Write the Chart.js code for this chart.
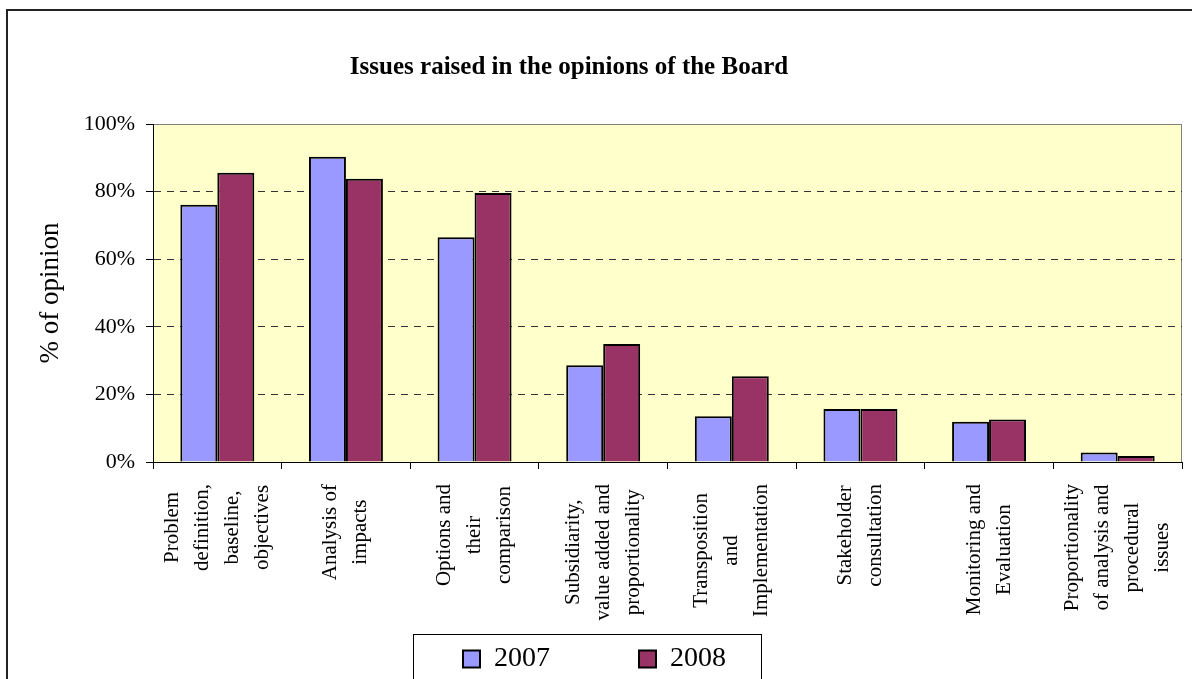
<!DOCTYPE html>
<html>
<head>
<meta charset="utf-8">
<script src="https://cdn.jsdelivr.net/npm/chart.js@4"></script>
<style>
  body { margin: 0; overflow: hidden; background: #fff; }
  #wrap { width: 1192px; height: 683px; }
</style>
</head>
<body>
<div id="wrap"><canvas id="myChart"></canvas></div>
<script>
const ctx = document.getElementById('myChart').getContext('2d')

const categories = [
    ['Problem', 'definition,', 'baseline,', 'objectives'],
    ['Analysis of', 'impacts'],
    ['Options and', 'their', 'comparison'],
    ['Subsidiarity,', 'value added and', 'proportionality'],
    ['Transposition', 'and', 'Implementation'],
    ['Stakeholder', 'consultation'],
    ['Monitoring and', 'Evaluation'],
    ['Proportionality', 'of analysis and', 'procedural', 'issues']
]
const values2007 = [76.1, 90.3, 66.5, 28.6, 13.5, 15.7, 11.9, 2.8]
const values2008 = [85.6, 83.8, 79.6, 34.9, 25.4, 15.7, 12.6, 1.8]
const yTicks = [0, 20, 40, 60, 80, 100]

const serif = '"Liberation Serif", "Times New Roman", serif'

// background, plot area, outer frame
const framePlugin = {
    id: 'frame',
    beforeDraw(chart) {
        const c = chart.ctx
        const a = chart.chartArea
        c.save()
        c.fillStyle = '#fff'
        c.fillRect(0, 0, chart.width, chart.height)
        c.fillStyle = '#FFFFCC'
        c.fillRect(a.left, a.top, a.right - a.left, a.bottom - a.top)
        c.strokeStyle = '#808080'
        c.lineWidth = 1
        c.strokeRect(a.left + 0.5, a.top + 0.5, a.right - a.left - 1, a.bottom - a.top)
        c.strokeStyle = '#222'
        c.lineWidth = 2
        c.beginPath()
        c.moveTo(chart.width, 10)
        c.lineTo(7, 10)
        c.lineTo(7, chart.height)
        c.stroke()
        c.restore()
    },
    afterLayout(chart) {
        // move the title a bit to the left, like the original
        const t = chart.titleBlock
        if (t) {
            t.right = 2 * 569 - t.left
            t.width = t.right - t.left
        }
    },
    afterDraw(chart) {
        const c = chart.ctx
        const x = chart.scales.x
        const a = chart.chartArea
        c.save()
        c.fillStyle = '#000'
        c.font = '21px ' + serif
        c.textAlign = 'center'
        c.textBaseline = 'middle'
        categories.forEach((lines, i) => {
            const cx = x.getPixelForValue(i)
            const maxLen = Math.max(...lines.map(l => c.measureText(l).width))
            const cy = a.bottom + 22 + maxLen / 2
            lines.forEach((line, k) => {
                c.save()
                c.translate(cx + (k - (lines.length - 1) / 2) * 30, cy)
                c.rotate(-Math.PI / 2)
                c.fillText(line, 0, 0)
                c.restore()
            })
        })
        // legend frame
        const hb = chart.legend.legendHitBoxes
        if (hb && hb.length) {
            const first = hb[0], last = hb[hb.length - 1]
            c.strokeStyle = '#000'
            c.lineWidth = 1
            c.strokeRect(first.left - 49.5, first.top - 10.5, last.left + last.width - first.left + 85, 200)
        }
        c.restore()
    }
}

const data = {
    labels: categories,
    datasets: [{
        label: '2007',
        data: values2007,
        backgroundColor: '#9999FF',
        borderColor: '#000',
        borderWidth: 2
    }, {
        label: '2008',
        data: values2008,
        backgroundColor: '#993366',
        borderColor: '#000',
        borderWidth: 2
    }]
}

const config = {
    type: 'bar',
    data,
    plugins: [framePlugin],
    options: {
        responsive: true,
        maintainAspectRatio: false,
        animation: false,
        datasets: {
            bar: { categoryPercentage: 0.575, barPercentage: 1.0 }
        },
        layout: { padding: { left: 7, right: 10, top: 0, bottom: 0 } },
        plugins: {
            title: {
                display: true,
                text: 'Issues raised in the opinions of the Board',
                color: '#000',
                font: { family: serif, size: 25, weight: 'bold' },
                padding: { top: 53, bottom: 41 }
            },
            legend: {
                position: 'bottom',
                labels: {
                    color: '#000',
                    font: { family: serif, size: 28 },
                    boxWidth: 17,
                    boxHeight: 17,
                    padding: 89
                }
            },
            tooltip: { enabled: false }
        },
        scales: {
            x: {
                grid: {
                    offset: true,
                    drawOnChartArea: false,
                    tickLength: 7,
                    tickColor: '#000'
                },
                border: { color: '#000', width: 1 },
                ticks: { display: false },
                afterFit(scale) { scale.height = 94 }
            },
            y: {
                min: 0,
                max: 100,
                afterBuildTicks(scale) {
                    scale.ticks = yTicks.map(v => ({ value: v }))
                },
                grid: {
                    color: c => (c.tick && (c.tick.value === 0 || c.tick.value === 100)) ? 'rgba(0,0,0,0)' : '#333',
                    tickColor: '#000',
                    tickLength: 7,
                    lineWidth: 1
                },
                border: { color: '#000', width: 1, dash: [7, 6] },
                ticks: {
                    color: '#000',
                    padding: 11,
                    font: { family: serif, size: 22 },
                    callback: v => v + '%'
                },
                title: {
                    display: true,
                    text: '% of opinion',
                    color: '#000',
                    font: { family: serif, size: 27 },
                    padding: { top: 28, bottom: 0 }
                },
                afterFit(scale) { scale.width = 146 }
            }
        }
    }
}

const myChart = new Chart(ctx, config)
</script>
</body>
</html>
